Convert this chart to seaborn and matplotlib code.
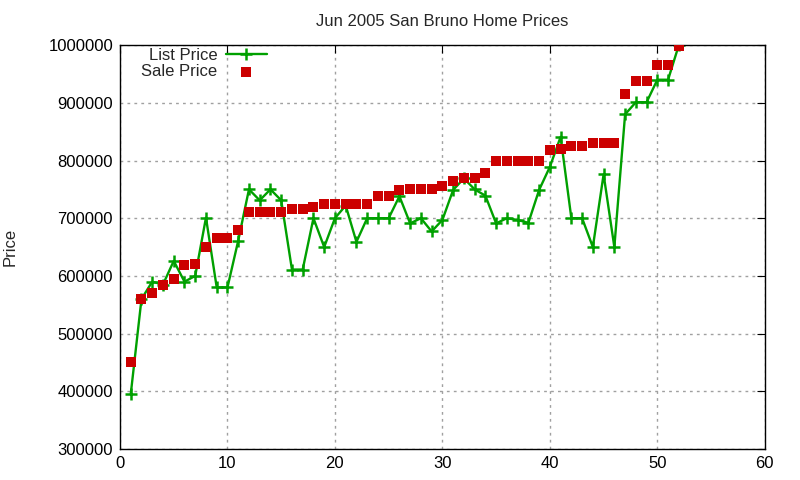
import matplotlib
matplotlib.use('Agg')
import matplotlib.pyplot as plt
import seaborn as sns
import pandas as pd

# Data
weeks = list(range(1, 53))
list_price = [395000, 560000, 590000, 585000, 626000, 590000, 600000, 701000, 580000, 580000,
              661000, 750000, 731000, 750000, 731000, 611000, 611000, 700000, 650000, 700000,
              722000, 659000, 700000, 700000, 700000, 738000, 691000, 700000, 677000, 697000,
              749000, 769000, 750000, 739000, 691000, 700000, 697000, 692000, 749000, 789000,
              841000, 700000, 700000, 650000, 776000, 650000, 880000, 901000, 901000, 940000,
              940000, 1000000]
sale_price = [451000, 560000, 571000, 584000, 595000, 619000, 621000, 650000, 666000, 666000,
              680000, 711000, 711000, 711000, 711000, 716000, 716000, 720000, 725000, 725000,
              725000, 725000, 725000, 738000, 738000, 749000, 750000, 750000, 750000, 756000,
              765000, 770000, 770000, 779000, 800000, 800000, 800000, 800000, 800000, 818000,
              820000, 825000, 825000, 831000, 831000, 831000, 915000, 938000, 938000, 966000,
              966000, 999000]

df = pd.DataFrame({'week': weeks, 'list': list_price, 'sale': sale_price})

sns.set_style('white')
plt.rcParams['font.family'] = ['Liberation Sans', 'DejaVu Sans']

fig = plt.figure(figsize=(8, 4.8), dpi=100)
ax = fig.add_axes([0.15, 0.0646, 0.806, 0.8414])

green = '#00a000'
sns.lineplot(data=df, x='week', y='list', ax=ax, color=green, linewidth=1.7,
             marker='+', markersize=9, markeredgewidth=1.8, markeredgecolor=green,
             label='List Price')
sns.scatterplot(data=df, x='week', y='sale', ax=ax, color='#cc0000', marker='s',
                s=55, linewidth=0, label='Sale Price', zorder=3)

ax.set_xlim(0, 60)
ax.set_ylim(300000, 1000000)
ax.set_xticks(range(0, 61, 10))
ax.set_yticks(range(300000, 1000001, 100000))
ax.ticklabel_format(style='plain', axis='y')
ax.tick_params(direction='in', top=True, right=True, length=6, labelsize=12,
               colors='black', pad=5)
ax.grid(True, color='#a0a0a0', linestyle=(0, (2, 3)), linewidth=1)
for s in ax.spines.values():
    s.set_color('black')
    s.set_linewidth(1)

ax.set_xlabel('')
ax.set_ylabel('Price', fontsize=12, labelpad=22)
ax.set_title('Jun 2005 San Bruno Home Prices', fontsize=12, pad=14)

ax.legend(loc='upper left', bbox_to_anchor=(0.015, 1.022), frameon=False, markerfirst=False,
          fontsize=12, handlelength=2.45, labelspacing=0.08, handletextpad=0.5,
          borderaxespad=0.3)

fig.savefig('out.png', dpi=100)
